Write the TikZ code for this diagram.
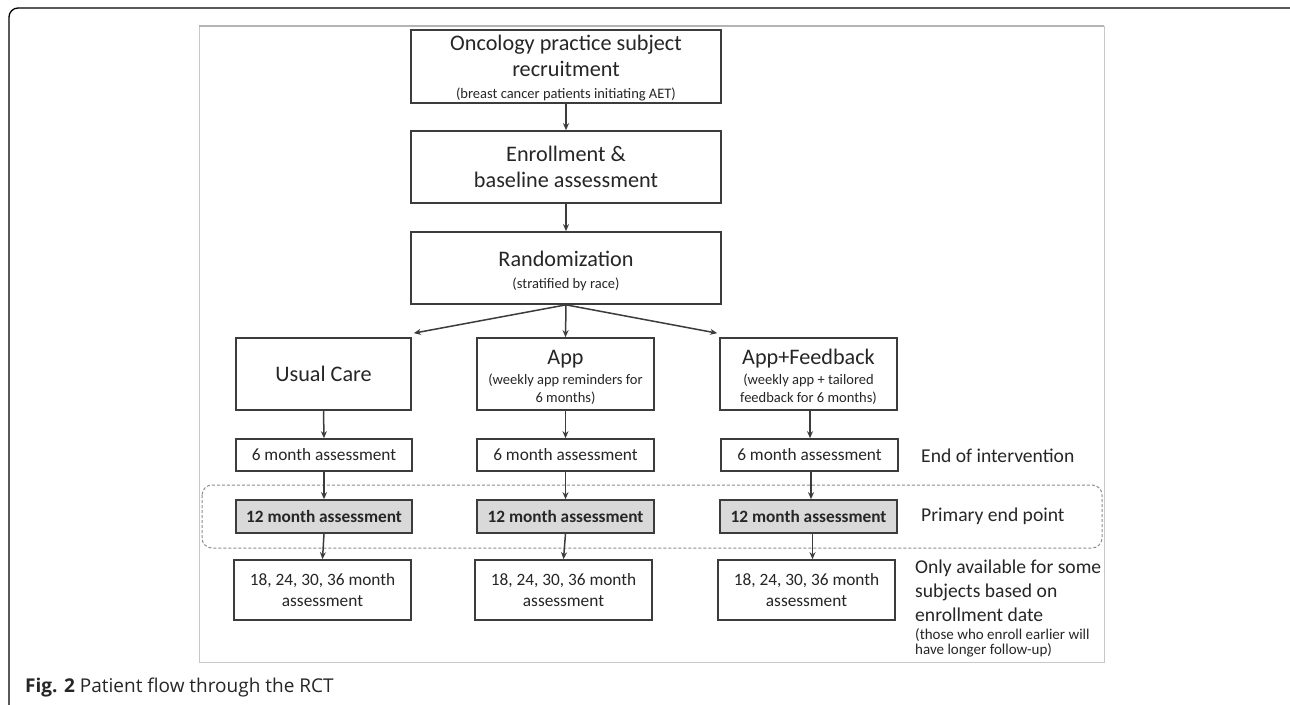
\documentclass[tikz,border=0pt]{standalone}
\usepackage{fontspec}
\setmainfont{Carlito}
\newfontfamily\capfont{Open Sans}
\usetikzlibrary{arrows.meta}
\definecolor{boxline}{HTML}{3C3C3C}
\definecolor{frameg}{HTML}{C8C8C8}
\definecolor{fillg}{HTML}{D9D9D9}
\definecolor{dashg}{HTML}{8C8C8C}
\tikzset{
  box/.style={draw=boxline, line width=1.7pt, fill=white, inner sep=0pt, align=center, text=black!85},
  bigtxt/.style={font=\fontsize{22.2}{26}\selectfont},
  midtxt/.style={font=\fontsize{17.3}{21.5}\selectfont},
  arr/.style={draw=boxline, line width=1.5pt, -{Stealth[length=7pt,width=6pt]}},
  sidetxt/.style={anchor=west, inner sep=0pt, align=left, text=black!85, font=\fontsize{19.6}{24}\selectfont},
}
\newcommand{\smalltxt}[1]{{\fontsize{14.5}{16}\selectfont #1}}
\newcommand{\topstrut}[1]{\rule{0pt}{#1}}
\begin{document}
\begin{tikzpicture}[x=1pt,y=-1pt]
\useasboundingbox (0,0) rectangle (1290,704);
\clip (0,0) rectangle (1290,704);
\fill[white] (0,0) rectangle (1290,704);
% outer frame
\draw[black, line width=1.3pt, rounded corners=9pt] (9,8) rectangle (1310,740);
% inner image frame
\draw[frameg, line width=0.8pt] (199,26) rectangle (1104,662);
\draw[frameg!90!black, line width=2.5pt] (199,26) -- (1104,26);
% dashed region
\draw[dashg, line width=1pt, dash pattern=on 3pt off 2pt, rounded corners=10pt] (202,485) rectangle (1102,548);

% main column
\node[box, bigtxt, minimum width=310pt, minimum height=73pt] (rec) at (566,66.5)
  {\topstrut{19pt}Oncology practice subject\\recruitment\\[-4pt]\smalltxt{(breast cancer patients initiating AET)}};
\node[box, bigtxt, minimum width=310pt, minimum height=72pt] (enr) at (566,167)
  {Enrollment \&\\baseline assessment};
\node[box, bigtxt, minimum width=310pt, minimum height=72pt] (rand) at (566,268)
  {\topstrut{22pt}Randomization\\[-4pt]\smalltxt{(stratified by race)}};

% arms
\node[box, bigtxt, minimum width=175pt, minimum height=72pt] (uc) at (323.5,374) {Usual Care};
\node[box, bigtxt, minimum width=177pt, minimum height=72pt] (app) at (565.5,374)
  {\topstrut{21pt}App\\[-5pt]\smalltxt{(weekly app reminders for}\\[-8pt]\smalltxt{6 months)}};
\node[box, bigtxt, minimum width=177pt, minimum height=72pt] (af) at (808.5,374)
  {\topstrut{21pt}App+Feedback\\[-5pt]\smalltxt{(weekly app + tailored}\\[-8pt]\smalltxt{feedback for 6 months)}};

% 6 month
\node[box, midtxt, minimum width=176pt, minimum height=32pt] (s1) at (324,455) {6 month assessment};
\node[box, midtxt, minimum width=177pt, minimum height=32pt] (s2) at (565.5,455) {6 month assessment};
\node[box, midtxt, minimum width=177pt, minimum height=32pt] (s3) at (809.5,455) {6 month assessment};

% 12 month
\tikzset{twelve/.style={box, fill=fillg, font=\fontsize{17.3}{21.5}\selectfont\bfseries, minimum height=33pt}}
\node[twelve, minimum width=176pt] (t1) at (324,516.5) {12 month assessment};
\node[twelve, minimum width=177pt] (t2) at (565.5,516.5) {12 month assessment};
\node[twelve, minimum width=177pt] (t3) at (808.5,516.5) {12 month assessment};

% later
\node[box, midtxt, minimum width=177pt, minimum height=60pt] (l1) at (322.5,590) {18, 24, 30, 36 month\\assessment};
\node[box, midtxt, minimum width=177pt, minimum height=60pt] (l2) at (563.5,590) {18, 24, 30, 36 month\\assessment};
\node[box, midtxt, minimum width=177pt, minimum height=60pt] (l3) at (806.5,590) {18, 24, 30, 36 month\\assessment};

% side labels
\node[sidetxt] (endint) at (921,456) {End of intervention};
\node[sidetxt] (prim) at (921,516) {Primary end point};
\node[sidetxt, anchor=north west] (only) at (915,560)
  {Only available for some\\subjects based on\\enrollment date\\[-6pt]{\fontsize{15}{15.5}\selectfont (those who enroll earlier will}\\[-9pt]{\fontsize{15}{15.5}\selectfont have longer follow-up)}};

% arrows
\draw[arr] (rec.south) -- (enr.north);
\draw[arr] (enr.south) -- (rand.north);
\draw[arr] (rand.south) -- ([xshift=2pt,yshift=4pt]uc.north east);
\draw[arr] (rand.south) -- (app.north);
\draw[arr] (rand.south) -- ([xshift=-2pt,yshift=4pt]af.north west);
\foreach \a/\b in {uc/s1,app/s2,s1/t1,s2/t2,t1/l1,t2/l2}{
  \draw[arr] (\a.south) -- (\b.north);
}
\draw[arr] ([xshift=1.5pt]af.south) -- ([xshift=0.5pt]s3.north);
\draw[arr] ([xshift=1.5pt]s3.south) -- ([xshift=2.5pt]t3.north);
\draw[arr] ([xshift=4pt]t3.south) -- ([xshift=6pt]l3.north);

% caption
\node[anchor=west, inner sep=0pt, font=\capfont\fontsize{19}{22}\selectfont, text=black!85] (cap) at (25,688)
  {\textbf{Fig. 2} Patient flow through the RCT};
\end{tikzpicture}
\end{document}
